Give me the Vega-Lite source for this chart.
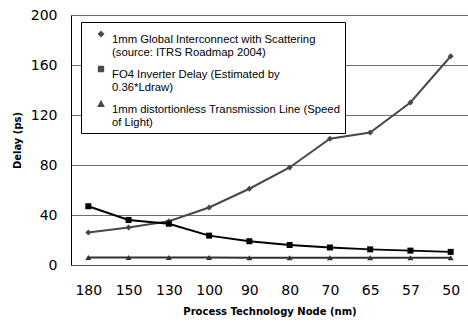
{
  "$schema": "https://vega.github.io/schema/vega-lite/v6.json",
  "width": 397,
  "height": 250,
  "autosize": "none",
  "padding": {"left": 71, "top": 15, "right": 0, "bottom": 57},
  "background": "white",
  "config": {
    "view": {"stroke": null},
    "font": "DejaVu Sans"
  },
  "data": {
    "values": [
      {"node": "180", "key": "a", "series": "1mm Global Interconnect with Scattering\n(source: ITRS Roadmap 2004)", "delay": 26},
      {"node": "150", "key": "a", "series": "1mm Global Interconnect with Scattering\n(source: ITRS Roadmap 2004)", "delay": 30},
      {"node": "130", "key": "a", "series": "1mm Global Interconnect with Scattering\n(source: ITRS Roadmap 2004)", "delay": 35},
      {"node": "100", "key": "a", "series": "1mm Global Interconnect with Scattering\n(source: ITRS Roadmap 2004)", "delay": 46},
      {"node": "90", "key": "a", "series": "1mm Global Interconnect with Scattering\n(source: ITRS Roadmap 2004)", "delay": 61},
      {"node": "80", "key": "a", "series": "1mm Global Interconnect with Scattering\n(source: ITRS Roadmap 2004)", "delay": 78},
      {"node": "70", "key": "a", "series": "1mm Global Interconnect with Scattering\n(source: ITRS Roadmap 2004)", "delay": 101},
      {"node": "65", "key": "a", "series": "1mm Global Interconnect with Scattering\n(source: ITRS Roadmap 2004)", "delay": 106},
      {"node": "57", "key": "a", "series": "1mm Global Interconnect with Scattering\n(source: ITRS Roadmap 2004)", "delay": 130},
      {"node": "50", "key": "a", "series": "1mm Global Interconnect with Scattering\n(source: ITRS Roadmap 2004)", "delay": 167},
      {"node": "180", "key": "b", "series": "FO4 Inverter Delay (Estimated by\n0.36*Ldraw)", "delay": 47},
      {"node": "150", "key": "b", "series": "FO4 Inverter Delay (Estimated by\n0.36*Ldraw)", "delay": 36},
      {"node": "130", "key": "b", "series": "FO4 Inverter Delay (Estimated by\n0.36*Ldraw)", "delay": 33},
      {"node": "100", "key": "b", "series": "FO4 Inverter Delay (Estimated by\n0.36*Ldraw)", "delay": 23.5},
      {"node": "90", "key": "b", "series": "FO4 Inverter Delay (Estimated by\n0.36*Ldraw)", "delay": 19},
      {"node": "80", "key": "b", "series": "FO4 Inverter Delay (Estimated by\n0.36*Ldraw)", "delay": 16},
      {"node": "70", "key": "b", "series": "FO4 Inverter Delay (Estimated by\n0.36*Ldraw)", "delay": 14},
      {"node": "65", "key": "b", "series": "FO4 Inverter Delay (Estimated by\n0.36*Ldraw)", "delay": 12.5},
      {"node": "57", "key": "b", "series": "FO4 Inverter Delay (Estimated by\n0.36*Ldraw)", "delay": 11.5},
      {"node": "50", "key": "b", "series": "FO4 Inverter Delay (Estimated by\n0.36*Ldraw)", "delay": 10.5},
      {"node": "180", "key": "c", "series": "1mm distortionless Transmission Line (Speed\nof Light)", "delay": 6},
      {"node": "150", "key": "c", "series": "1mm distortionless Transmission Line (Speed\nof Light)", "delay": 6},
      {"node": "130", "key": "c", "series": "1mm distortionless Transmission Line (Speed\nof Light)", "delay": 6},
      {"node": "100", "key": "c", "series": "1mm distortionless Transmission Line (Speed\nof Light)", "delay": 6},
      {"node": "90", "key": "c", "series": "1mm distortionless Transmission Line (Speed\nof Light)", "delay": 5.8},
      {"node": "80", "key": "c", "series": "1mm distortionless Transmission Line (Speed\nof Light)", "delay": 5.8},
      {"node": "70", "key": "c", "series": "1mm distortionless Transmission Line (Speed\nof Light)", "delay": 5.8},
      {"node": "65", "key": "c", "series": "1mm distortionless Transmission Line (Speed\nof Light)", "delay": 5.8},
      {"node": "57", "key": "c", "series": "1mm distortionless Transmission Line (Speed\nof Light)", "delay": 5.8},
      {"node": "50", "key": "c", "series": "1mm distortionless Transmission Line (Speed\nof Light)", "delay": 5.8}
    ]
  },
  "encoding": {
    "x": {
      "field": "node", "type": "ordinal", "sort": null,
      "scale": {"type": "point", "padding": 0.43},
      "axis": {
        "title": "Process Technology Node (nm)",
        "titleFont": "DejaVu Sans", "titleFontSize": 10, "titleFontWeight": "bold", "titleColor": "#000",
        "titlePadding": 9,
        "labelFont": "DejaVu Sans", "labelFontSize": 14, "labelColor": "#000", "labelAngle": 0,
        "labelPadding": 18,
        "ticks": false, "grid": false,
        "domain": true, "domainColor": "#555", "domainWidth": 1
      }
    },
    "y": {
      "field": "delay", "type": "quantitative",
      "scale": {"domain": [0, 200], "nice": false},
      "axis": {
        "title": "Delay (ps)",
        "titleFont": "DejaVu Sans", "titleFontSize": 10, "titleFontWeight": "bold", "titleColor": "#000",
        "titlePadding": 8,
        "values": [0, 40, 80, 120, 160, 200],
        "labelFont": "DejaVu Sans", "labelFontSize": 14, "labelColor": "#000",
        "labelPadding": 14,
        "ticks": false,
        "grid": true, "gridColor": "#707070", "gridWidth": 1, "gridOpacity": 1,
        "domain": true, "domainColor": "#000", "domainWidth": 1
      }
    }
  },
  "resolve": {"scale": {"shape": "independent"}, "legend": {"shape": "independent"}},
  "layer": [
    {
      "mark": {"type": "line", "strokeWidth": 2},
      "encoding": {
        "stroke": {
          "field": "key", "type": "nominal", "sort": null,
          "scale": {"range": ["#484848", "#000000", "#303030"]},
          "legend": null
        }
      }
    },
    {
      "mark": {"type": "point", "filled": true, "opacity": 1, "size": 36},
      "encoding": {
        "shape": {
          "field": "key", "type": "nominal", "sort": null,
          "scale": {"range": ["diamond", "square", "triangle-up"]},
          "legend": null
        },
        "fill": {
          "field": "key", "type": "nominal", "sort": null,
          "scale": {"range": ["#484848", "#000000", "#303030"]},
          "legend": null
        }
      }
    },
    {
      "mark": {"type": "point", "filled": true, "size": 0, "fill": "#000", "stroke": "#000", "strokeWidth": 1.6},
      "encoding": {
        "shape": {
          "field": "series", "type": "nominal", "sort": null,
          "scale": {"range": [
            "M-1.45,0H1.45M0,-0.5L0.5,0L0,0.5L-0.5,0Z",
            "M-1.45,0H1.45M-0.45,-0.45H0.45V0.45H-0.45Z",
            "M-1.45,0H1.45M0,-0.6L0.55,0.42H-0.55Z"
          ]},
          "legend": {
            "title": null,
            "orient": "none",
            "legendX": 10,
            "legendY": 7,
            "direction": "vertical",
            "fillColor": "white",
            "strokeColor": "#000",
            "padding": 4,
            "rowPadding": 2,
            "symbolSize": 196,
            "symbolOffset": 8,
            "symbolStrokeWidth": 1.6,
            "symbolFillColor": "#000",
            "symbolStrokeColor": "#000",
            "labelFont": "Liberation Sans",
            "labelFontSize": 11.3,
            "labelColor": "#000",
            "labelLimit": 300,
            "labelOffset": 3,
            "labelBaseline": "top",
            "labelExpr": "split(datum.label, '\\n')"
          }
        }
      }
    }
  ]
}
